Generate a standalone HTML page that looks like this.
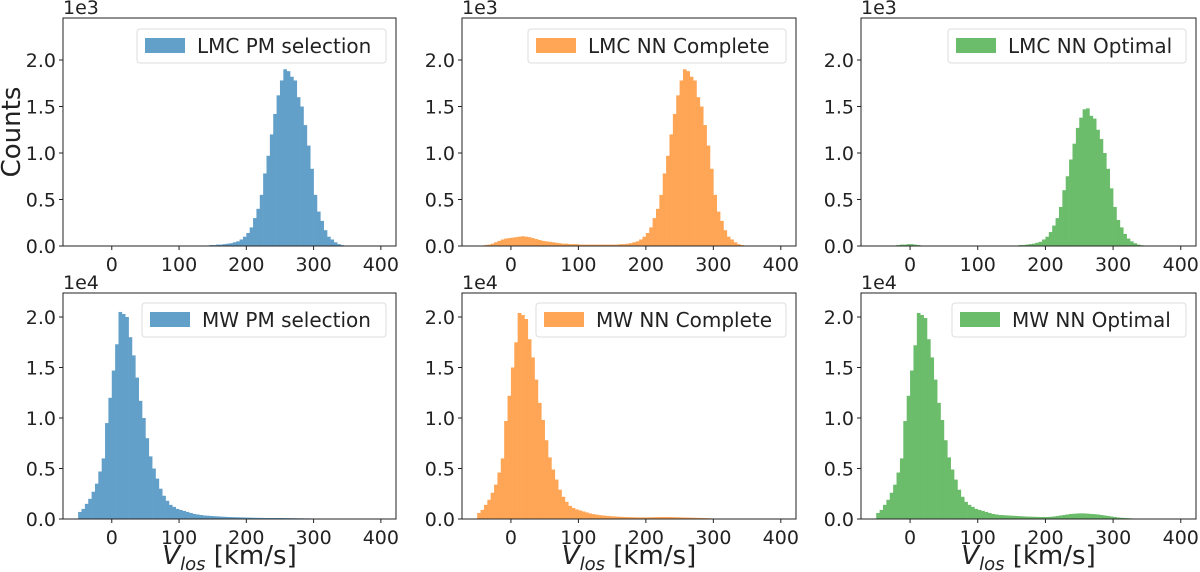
<!DOCTYPE html>
<html><head><meta charset="utf-8"><style>
body{margin:0;background:#fff;}
svg{display:block;font-family:"DejaVu Sans","Liberation Sans",sans-serif;}
</style></head><body>
<svg id="fig" width="1200" height="572" viewBox="0 0 1200 572"></svg>
<script>
const binStart = -50;
const binWidth = 5;
const xTicks = [0, 100, 200, 300, 400];
const yTickLabels = ["0.0", "0.5", "1.0", "1.5", "2.0"];
const panelLabels = ["LMC PM selection","LMC NN Complete","LMC NN Optimal","MW PM selection","MW NN Complete","MW NN Optimal"];
const lmcPM = [0,0,0,0,0,0,0,0,0, 0,0,5,5,0,0,0,0,0,0, 0,0,0,0,0,5,5,5,5,5, 5,5,5,5,5,5,5,5,5,5,
 10,10,15,15,20,25,30,40,50,70, 100,140,200,300,400,550,780,970,1200,1420, 1620,1780,1900,1880,1820,1780,1600,1500,1300,1080,
 830,550,370,270,170,100,70,40,20,10, 5,0,0,0,5,0,0,0,0,0,0];
const lmcNNC = [5,5,10,15,25,40,55,70,80, 85,90,95,100,105,100,95,85,75,65, 55,50,45,40,35,30,25,25,20,20, 20,15,15,15,15,15,15,15,15,15,
 15,15,15,20,20,25,30,40,50,70, 100,140,200,300,400,550,780,970,1200,1420, 1620,1780,1900,1880,1820,1780,1600,1500,1300,1080,
 830,550,370,270,170,100,70,40,20,10, 5,0,0,0,5,0,0,0,0,0,0];
const lmcNNO = [0,0,0,0,0,5,10,15,15, 20,20,15,10,5,5,0,0,0,0, 0,0,0,0,0,0,0,0,0,0, 0,0,0,0,0,0,0,0,0,0,
 5,5,5,10,10,15,20,25,35,45, 70,100,150,220,300,420,600,750,930,1100, 1270,1380,1470,1480,1400,1370,1250,1150,1000,830,
 620,420,280,200,130,80,50,30,15,8, 0,0,0,0,0,0,0,0,0,0,0];
const mwPM = [700,1000,1500,2000,2700,3500,4700,6000,9500, 12000,14700,17300,20500,20300,20000,18000,16200,14000,11700,
 10000,8000,6200,5000,4000,3000,2300,1800,1400,1200, 1000,900,800,700,600,500,450,400,350,330,
 300,280,260,240,220,200,190,180,170,160, 150,140,130,120,110,110,100,100,100,100, 100,100,90,90,80,80,70,70,60,60,
 50,50,40,40,30,30,30,20,20,20, 10,10,10,10,10,10,10,10,10,10,10];
const mwNNC = [600,900,1400,1900,2600,3400,4600,6000,9700, 12200,15000,17500,20400,20200,19800,17800,16000,13800,11500,
 9800,7800,6100,4900,3900,2900,2200,1700,1300,1100, 950,850,750,650,550,480,430,380,340,310,
 280,260,240,220,200,190,180,170,160,160, 160,160,170,180,190,200,200,200,190,180, 170,160,150,140,130,120,110,100,90,80,
 60,50,40,40,30,30,20,20,20,20, 10,10,10,10,10,10,10,10,10,10,10];
const mwNNO = [600,900,1400,1900,2600,3400,4600,6000,9700, 12200,14700,17200,20400,20200,19900,17800,16000,13800,11500,
 9800,7800,6100,4900,3900,2900,2200,1700,1400,1200, 1000,900,800,700,600,500,450,400,380,360,
 340,320,300,280,260,240,230,220,210,200, 200,200,220,250,300,350,400,450,500,520, 550,560,550,530,500,480,450,400,350,300,
 250,200,150,120,100,80,60,40,30,20, 10,10,10,10,10,10,10,10,10,10,10];
const series = [lmcPM, lmcNNC, lmcNNO, mwPM, mwNNC, mwNNO];
const NS = "http://www.w3.org/2000/svg";
const svg = document.getElementById("fig");
const colors = ["#62a0ca","#ffa556","#6bbc6b"];
const colX = [[63,396],[462,796],[861,1196]];
const rowY = [[18,246],[293,519]];
const yScaleTop = 1000, yScaleBot = 10000;
function mk(tag, attrs, parent){const e=document.createElementNS(NS,tag);for(const k in attrs)e.setAttribute(k,attrs[k]);(parent||svg).appendChild(e);return e;}
for (let p=0;p<6;p++){
  const r = Math.floor(p/3), c = p%3;
  const [x0,x1]=colX[c], [y0,y1]=rowY[r];
  const g = mk("g",{});
  
  
  const xmin=-72.5, xmax=422.5;
  const xs = v => x0 + (v-xmin)/(xmax-xmin)*(x1-x0);
  const unit = r===0 ? yScaleTop : yScaleBot;
  const pxPer = r===0 ? 93 : 101;
  const ys = v => y1 - v/unit*pxPer;
  const data = series[p];
  for (let i=0;i<data.length;i++){
    if (data[i]<=0) continue;
    const a = binStart + i*binWidth;
    const b = mk("rect",{x:xs(a),y:ys(data[i]),width:xs(a+binWidth)-xs(a)+0.3,height:y1-ys(data[i]),fill:colors[c]},g);
    
    
  }
  const fr = mk("rect",{x:x0,y:y0,width:x1-x0,height:y1-y0,fill:"none",stroke:"#222","stroke-width":1},g);
  
  
  xTicks.forEach(t=>{
    mk("line",{x1:xs(t),x2:xs(t),y1:y1,y2:y1+4,stroke:"#222"},g);
    const tx = mk("text",{x:xs(t),y:y1+25,"text-anchor":"middle","font-size":19,fill:"#222"},g);
    tx.textContent=t;
    
    
  });
  yTickLabels.forEach((lab,i)=>{
    const yy = y1 - i*0.5*pxPer;
    mk("line",{x1:x0-4,x2:x0,y1:yy,y2:yy,stroke:"#222"},g);
    const tx = mk("text",{x:x0-7,y:yy+7,"text-anchor":"end","font-size":19,fill:"#222"},g);
    tx.textContent=lab;
    
    
  });
  const off = mk("text",{x:x0,y:y0-4,"font-size":19,fill:"#222"},g);
  off.textContent = r===0 ? "1e3" : "1e4";
  
  
  const lw = r===0 ? (c===0?249:(c===1?258:238)) : (c===0?244:(c===1?250:234));
  const lx = x1 - 10 - lw, ly = r===0 ? y0+11 : y0+10;
  const leg = mk("g",{},g);
  
  
  mk("rect",{x:lx,y:ly,width:lw,height:34,rx:3,fill:"#fff",stroke:"#ddd"},leg);
  mk("rect",{x:lx+8,y:ly+9,width:40,height:15,fill:colors[c]},leg);
  const lt = mk("text",{x:lx+60,y:ly+24,"font-size":20,fill:"#222"},leg);
  lt.textContent = panelLabels[p];
  if (r===1){
    const xl = mk("text",{x:(x0+x1)/2,y:564,"text-anchor":"middle","font-size":26,fill:"#222"},g);
    xl.innerHTML = '<tspan font-style="italic">V</tspan><tspan font-style="italic" font-size="18" dy="6">los</tspan><tspan dy="-6"> [km/s]</tspan>';
    
    
  }
}
const yl = mk("text",{x:0,y:0,"text-anchor":"middle","font-size":26,fill:"#222",transform:"translate(20,132) rotate(-90)"});
yl.textContent="Counts";


</script>
</body></html>
